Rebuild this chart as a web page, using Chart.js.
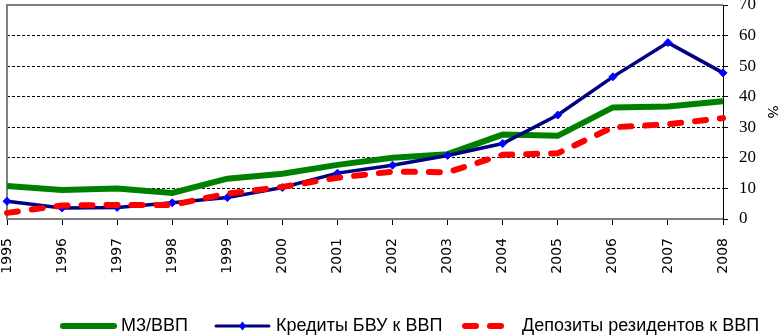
<!DOCTYPE html>
<html>
<head>
<meta charset="utf-8">
<script src="https://cdn.jsdelivr.net/npm/chart.js@4.4.1/dist/chart.umd.min.js"></script>
<style>
  html, body { margin: 0; padding: 0; background: #fff; }
  #wrap { width: 780px; height: 335px; }
</style>
</head>
<body>
<div id="wrap"><canvas id="chart" width="780" height="335"></canvas></div>
<script>
const years = ["1995","1996","1997","1998","1999","2000","2001","2002","2003","2004","2005","2006","2007","2008"]
const m3 = [10.8, 9.5, 10, 8.5, 13.2, 14.8, 17.7, 20, 21.2, 27.6, 27.2, 36.5, 36.8, 38.5]
const credits = [5.8, 3.6, 3.8, 5.3, 7, 10.3, 15, 17.6, 20.8, 24.7, 34, 46.5, 57.7, 47.8]
const deposits = [2, 4.4, 4.6, 4.6, 8.3, 10.5, 13.5, 15.5, 15.3, 21, 21.5, 30, 31, 33]
const seriesNames = ["М3/ВВП", "Кредиты БВУ к ВВП", "Депозиты резидентов к ВВП"]

const legendFont = "18px 'Liberation Sans Narrow', 'Arial Narrow', 'Liberation Sans', sans-serif"

// legend + chart frame drawn by hand
const framePlugin = {
    id: "frame",
    beforeDatasetsDraw(chart) {
        const a = chart.chartArea
        const ctx = chart.ctx
        ctx.save()
        ctx.strokeStyle = "#808080"
        ctx.lineWidth = 2
        ctx.beginPath()
        ctx.moveTo(a.left, a.bottom)
        ctx.lineTo(a.left, a.top)
        ctx.lineTo(a.right, a.top)
        ctx.stroke()
        ctx.restore()
    },
    afterDraw(chart) {
        const ctx = chart.ctx
        const y = 326
        const items = [
            {x1: 60, x2: 117, color: "#008000", width: 6, dash: [], marker: false},
            {x1: 213, x2: 272, color: "#000080", width: 3, dash: [], marker: true},
            {x1: 462, x2: 518, color: "#ff0000", width: 6, dash: [11, 14], marker: false}
        ]
        ctx.save()
        items.forEach((it, i) => {
            ctx.strokeStyle = it.color
            ctx.lineWidth = it.width
            ctx.lineCap = "round"
            ctx.setLineDash(it.dash)
            ctx.beginPath()
            ctx.moveTo(it.x1 + 3, y)
            ctx.lineTo(it.x2 - 3, y)
            ctx.stroke()
            ctx.setLineDash([])
            if (it.marker) {
                const cx = (it.x1 + it.x2) / 2
                ctx.fillStyle = "#0000ff"
                ctx.beginPath()
                ctx.moveTo(cx, y - 4.5)
                ctx.lineTo(cx + 3.5, y)
                ctx.lineTo(cx, y + 4.5)
                ctx.lineTo(cx - 3.5, y)
                ctx.closePath()
                ctx.fill()
            }
            ctx.fillStyle = "#000"
            ctx.font = legendFont
            ctx.textBaseline = "middle"
            ctx.textAlign = "left"
            ctx.fillText(seriesNames[i], it.x2 + 4, y)
        })
        ctx.restore()
    }
}

new Chart(document.getElementById("chart"), {
    type: "line",
    data: {
        labels: years,
        datasets: [{
            label: seriesNames[0],
            data: m3,
            borderColor: "#008000",
            borderWidth: 6,
            pointRadius: 0,
            tension: 0,
            order: 3
        }, {
            label: seriesNames[1],
            data: credits,
            borderColor: "#000080",
            borderWidth: 3.5,
            pointStyle: "rectRot",
            pointRadius: 4,
            pointBackgroundColor: "#0000ff",
            pointBorderColor: "#0000ff",
            pointBorderWidth: 1,
            tension: 0,
            order: 2
        }, {
            label: seriesNames[2],
            data: deposits,
            borderColor: "#ff0000",
            borderWidth: 6,
            borderDash: [11, 14],
            borderCapStyle: "round",
            pointRadius: 0,
            tension: 0,
            order: 1
        }]
    },
    options: {
        responsive: false,
        animation: false,
        layout: { padding: { left: 7, top: 5, right: 0, bottom: 0 } },
        plugins: {
            legend: { display: false },
            tooltip: { enabled: false }
        },
        scales: {
            x: {
                offset: false,
                afterFit: (scale) => {
                    scale.height = 116
                    scale.paddingLeft = 0
                    scale.paddingRight = 0
                },
                grid: {
                    drawOnChartArea: false,
                    drawTicks: true,
                    tickLength: 6,
                    color: "#000"
                },
                border: { color: "#808080", width: 2 },
                ticks: {
                    minRotation: 90,
                    maxRotation: 90,
                    autoSkip: false,
                    padding: 13,
                    color: "#000",
                    font: { family: "'DejaVu Sans', Tahoma, sans-serif", size: 14 }
                }
            },
            y: {
                position: "right",
                min: 0,
                max: 70,
                afterFit: (scale) => {
                    scale.width = 57
                    scale.paddingTop = 0
                    scale.paddingBottom = 0
                },
                grid: {
                    color: (c) => (c.tick && (c.tick.value === 0 || c.tick.value === 70)) ? "rgba(0,0,0,0)" : "#000",
                    tickColor: "#000",
                    tickLength: 5,
                    lineWidth: 1
                },
                border: { color: "#000", width: 1, dash: [3, 2] },
                ticks: {
                    stepSize: 10,
                    padding: 11,
                    color: "#000",
                    font: { family: "'Liberation Serif', 'Times New Roman', serif", size: 17 }
                },
                title: {
                    display: true,
                    text: "%",
                    color: "#000",
                    padding: { top: 0, bottom: 2 },
                    font: { family: "'DejaVu Sans', sans-serif", size: 14 }
                }
            }
        }
    },
    plugins: [framePlugin]
})
</script>
</body>
</html>
